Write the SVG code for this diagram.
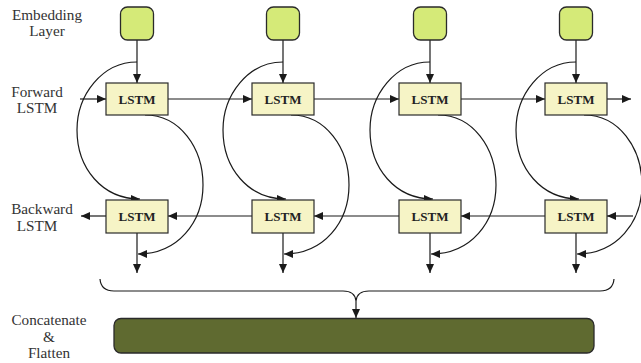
<svg xmlns="http://www.w3.org/2000/svg" width="641" height="363" viewBox="0 0 641 363">
<style>
.lbl{font-family:"Liberation Serif","Times New Roman",serif;font-size:15.2px;fill:#333;text-anchor:middle}
.box{font-family:"Liberation Serif","Times New Roman",serif;font-size:13px;font-weight:bold;fill:#222;text-anchor:middle}
.emb{fill:#d5ea78;stroke:#2a2a2a;stroke-width:1.3}
.lstm{fill:#f6f4c6;stroke:#2a2a2a;stroke-width:1.2}
.c{fill:none;stroke:#1a1a1a;stroke-width:1.2}
.ca{fill:none;stroke:#1a1a1a;stroke-width:1.2;marker-end:url(#ah)}
</style>
<defs>
<marker id="ah" markerUnits="userSpaceOnUse" markerWidth="10" markerHeight="10" viewBox="0 0 10 10" refX="9" refY="5" orient="auto">
<path d="M0,1 L9,5 L0,9 Z" fill="#1a1a1a"/>
</marker>
</defs>
<rect width="641" height="363" fill="#fff"/>
<g id="labels">
<text class="lbl" x="47" y="19.5">Embedding</text>
<text class="lbl" x="47" y="36">Layer</text>
<text class="lbl" x="37" y="97">Forward</text>
<text class="lbl" x="37" y="113">LSTM</text>
<text class="lbl" x="42" y="214">Backward</text>
<text class="lbl" x="37" y="231">LSTM</text>
<text class="lbl" x="49" y="325">Concatenate</text>
<text class="lbl" x="49" y="342">&amp;</text>
<text class="lbl" x="49" y="358">Flatten</text>
</g>
<g id="connectors">
<path class="ca" d="M137,40 V83"/>
<path class="ca" d="M283,40 V83"/>
<path class="ca" d="M430,40 V83"/>
<path class="ca" d="M576,40 V83"/>
<path class="ca" d="M80,99 H106"/>
<path class="ca" d="M168,99 H252"/>
<path class="ca" d="M314,99 H399"/>
<path class="ca" d="M461,99 H545"/>
<path class="ca" d="M607,99 H631"/>
<path class="ca" d="M633,216 H607"/>
<path class="ca" d="M545,216 H461"/>
<path class="ca" d="M399,216 H314"/>
<path class="ca" d="M252,216 H168"/>
<path class="ca" d="M106,216 H81"/>
<path class="ca" d="M137,233 V273"/>
<path class="ca" d="M283,233 V273"/>
<path class="ca" d="M430,233 V273"/>
<path class="ca" d="M576,233 V273"/>
<path class="ca" d="M137,62 C102,62 77,95 77,130 C77,168 102,199 140,199"/>
<path class="ca" d="M283,62 C248,62 223,95 223,130 C223,168 248,199 286,199"/>
<path class="ca" d="M430,62 C395,62 370,95 370,130 C370,168 395,199 433,199"/>
<path class="ca" d="M576,62 C541,62 516,95 516,130 C516,168 541,199 579,199"/>
<path class="ca" d="M145,115 C180,115 203,148 203,185 C203,222 178,254 138,254"/>
<path class="ca" d="M291,115 C326,115 349,148 349,185 C349,222 324,254 284,254"/>
<path class="ca" d="M438,115 C473,115 496,148 496,185 C496,222 471,254 431,254"/>
<path class="ca" d="M584,115 C619,115 642,148 642,185 C642,222 617,254 577,254"/>
<path class="c" d="M100,279 Q101,291 114,291 H343 Q355,291 356,301 Q357,291 369,291 H600 Q613,291 614,279"/>
<path class="ca" d="M356,301 V318"/>
</g>
<g id="emb1"><rect class="emb" x="120.5" y="7" width="33" height="33" rx="7"/></g>
<g id="emb2"><rect class="emb" x="266.5" y="7" width="33" height="33" rx="7"/></g>
<g id="emb3"><rect class="emb" x="413.5" y="7" width="33" height="33" rx="7"/></g>
<g id="emb4"><rect class="emb" x="559.5" y="7" width="33" height="33" rx="7"/></g>
<g id="fwd1"><rect class="lstm" x="106" y="83" width="62" height="32"/><text class="box" x="137" y="104">LSTM</text></g>
<g id="fwd2"><rect class="lstm" x="252" y="83" width="62" height="32"/><text class="box" x="283" y="104">LSTM</text></g>
<g id="fwd3"><rect class="lstm" x="399" y="83" width="62" height="32"/><text class="box" x="430" y="104">LSTM</text></g>
<g id="fwd4"><rect class="lstm" x="545" y="83" width="62" height="32"/><text class="box" x="576" y="104">LSTM</text></g>
<g id="bwd1"><rect class="lstm" x="106" y="200" width="62" height="33"/><text class="box" x="137" y="221">LSTM</text></g>
<g id="bwd2"><rect class="lstm" x="252" y="200" width="62" height="33"/><text class="box" x="283" y="221">LSTM</text></g>
<g id="bwd3"><rect class="lstm" x="399" y="200" width="62" height="33"/><text class="box" x="430" y="221">LSTM</text></g>
<g id="bwd4"><rect class="lstm" x="545" y="200" width="62" height="33"/><text class="box" x="576" y="221">LSTM</text></g>
<g id="concat"><rect x="114" y="318.5" width="480" height="34.5" rx="7" fill="#5f6a30" stroke="#2a2a2a" stroke-width="1.3"/></g>
</svg>
